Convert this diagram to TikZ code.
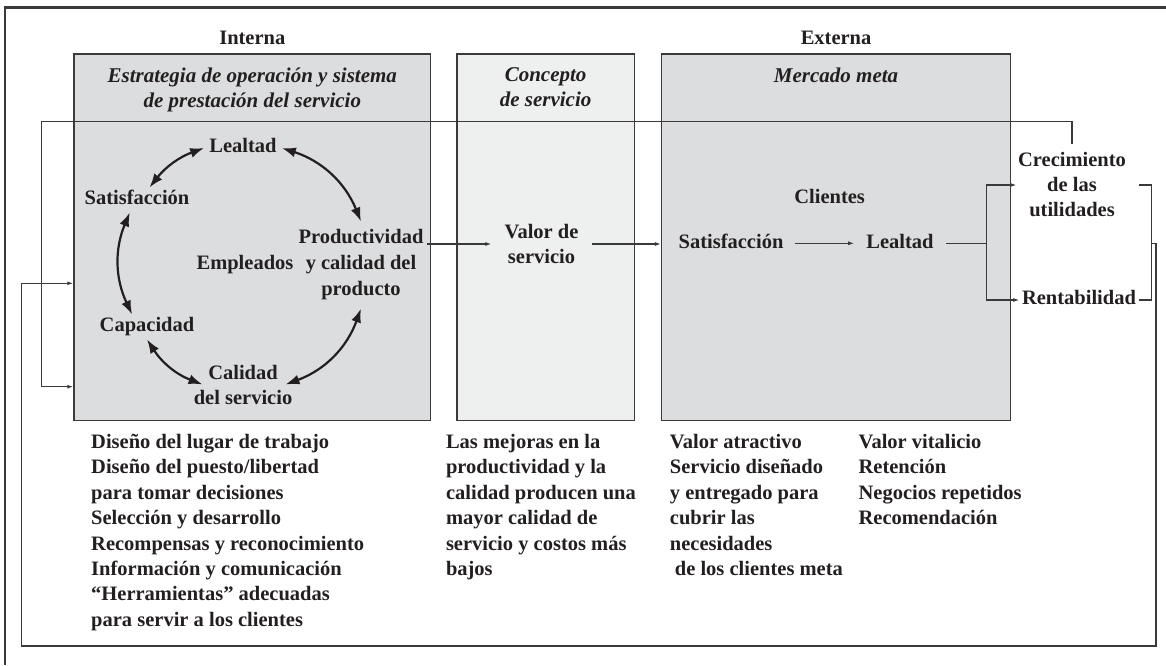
\documentclass[tikz,border=0pt]{standalone}
\usepackage{fontspec}
\setmainfont{Liberation Serif}
\usetikzlibrary{arrows.meta,calc,positioning}

\definecolor{panelgray}{HTML}{DCDDDF}
\definecolor{panellight}{HTML}{EEEFEF}
\definecolor{inkgray}{HTML}{3A3A3A}
\definecolor{inktext}{HTML}{231F20}

\begin{document}
\begin{tikzpicture}[x=1pt,y=1pt,font=\fontsize{20.5}{25}\selectfont\bfseries,text=inktext,
    >={Latex[length=6pt,width=4pt]},node distance=25pt]
  \tikzset{
    panel/.style={draw=inkgray, line width=1.3pt, minimum height=366.7pt, inner sep=0pt},
    head/.style={inner sep=0pt, anchor=base},
    title/.style={inner sep=0pt, align=center, font=\fontsize{21}{25}\selectfont\bfseries\itshape},
    lbl/.style={inner sep=3pt, text height=14pt, text depth=4.5pt},
    stack/.style={inner sep=3pt, align=center},
    list/.style={inner sep=0pt, anchor=north west, align=left, font=\fontsize{20.5}{25.4}\selectfont\bfseries},
    flow/.style={->, line width=1.2pt, draw=inkgray},
    plain/.style={line width=1.2pt, draw=inkgray},
    cyc/.style={{Latex[length=14pt,width=10pt]}-{Latex[length=14pt,width=10pt]}, line width=2.2pt, draw=inktext}
  }
  \useasboundingbox (0,0) rectangle (1166,665);
  % outer frame
  \draw[line width=2.6pt, inkgray] (5,0) -- (5,657.7) -- (1166,657.7);

  % panels
  \node[panel, fill=panelgray, minimum width=356.7pt, anchor=north west] (estrategia) at (73.3,611.7) {};
  \node[panel, fill=panellight, minimum width=177.3pt, right=25pt of estrategia] (concepto) {};
  \node[panel, fill=panelgray, minimum width=349pt, right=26pt of concepto] (mercado) {};

  \node[head] (interna) at ([yshift=9pt]estrategia.north) {Interna};
  \node[head] (externa) at ([yshift=9pt]mercado.north) {Externa};
  \node[title, below=14pt of estrategia.north] (estrtitle) {Estrategia de operación y sistema\\de prestación del servicio};
  \node[title, below=14pt of concepto.north] (conctitle) {Concepto\\de servicio};
  \node[title, below=14pt of mercado.north] (merctitle) {Mercado meta};

  % empleados cycle
  \node[lbl, inner xsep=5pt] (lealtad) at (243,517) {Lealtad};
  \node[lbl] (satis) at (137,465) {Satisfacción};
  \node[lbl] (empleados) at (245,400) {Empleados};
  \node[stack, inner ysep=8pt, font=\fontsize{20.5}{26}\selectfont\bfseries] (prod) at (361,400)
    {Productividad\\y calidad del\\producto};
  \node[lbl] (capac) at (147,338) {Capacidad};
  \node[stack] (calidad) at (243,280.5) {Calidad\\del servicio};

  \draw[cyc] (satis.45) to[bend left=16] (lealtad.west);
  \draw[cyc] (lealtad.east) to[bend left=25] (prod.north);
  \draw[cyc] (satis.-120) to[bend right=24] (capac.140);
  \draw[cyc] (capac.south) to[bend right=18] ([xshift=12pt]calidad.west);
  \draw[cyc] ([xshift=-10pt]calidad.east) to[bend right=25] (prod.south);

  % clientes
  \node[stack, inner xsep=13pt] (valor) at (541.5,421) {Valor de\\servicio};
  \node[lbl] (clientes) at (829.6,466.7) {Clientes};
  \node[lbl, inner xsep=11pt] (satis2) at (731,421.7) {Satisfacción};
  \node[lbl, inner xsep=12pt] (lealtad2) at (900,421.7) {Lealtad};
  \node[stack, inner xsep=1.5pt, inner ysep=9pt] (crec) at (1072,480) {Crecimiento\\de las\\utilidades};
  \node[lbl, inner xsep=2.5pt] (rent) at (1079,365) {Rentabilidad};

  \coordinate (fork) at (986.7,421.7);
  \coordinate (brk) at (1151.7,421.7);
  \coordinate (topL) at (41.7,543.3);
  \coordinate (botR) at (1156,19);
  \coordinate (botL) at (21.7,19);
  \coordinate (inA) at (73.3,278.3);
  \coordinate (inB) at (73.3,381.7);

  \draw[flow] (prod.east |- valor) -- (valor);
  \draw[flow] (valor) -- (valor -| mercado.west);
  \draw[flow] (satis2) -- (lealtad2);
  \draw[plain] (lealtad2) -- (fork);
  \draw[flow] (fork) |- (crec.west);
  \draw[flow] (fork) |- (rent.west);
  \draw[plain] ([xshift=11.5pt]crec.east) -- ++(12.7,0) |- (rent.east);
  % feedback loops
  \draw[flow] (crec.north) |- (topL) |- (inA);
  \draw[flow] (brk) -| (botR) -- (botL) |- (inB);

  % lists under the panels
  \node[list] (lista) at (91,231) {Diseño del lugar de trabajo\\Diseño del puesto/libertad\\para tomar decisiones\\Selección y desarrollo\\Recompensas y reconocimiento\\Información y comunicación\\“Herramientas” adecuadas\\para servir a los clientes};
  \node[list] (listb) at (445.8,231) {Las mejoras en la\\productividad y la\\calidad producen una\\mayor calidad de\\servicio y costos más\\bajos};
  \node[list] (listc) at (669.7,231) {Valor atractivo\\Servicio diseñado\\y entregado para\\cubrir las\\necesidades\\\hspace{5pt}de los clientes meta};
  \node[list] (listd) at (858.4,231) {Valor vitalicio\\Retención\\Negocios repetidos\\Recomendación};
\end{tikzpicture}
\end{document}
